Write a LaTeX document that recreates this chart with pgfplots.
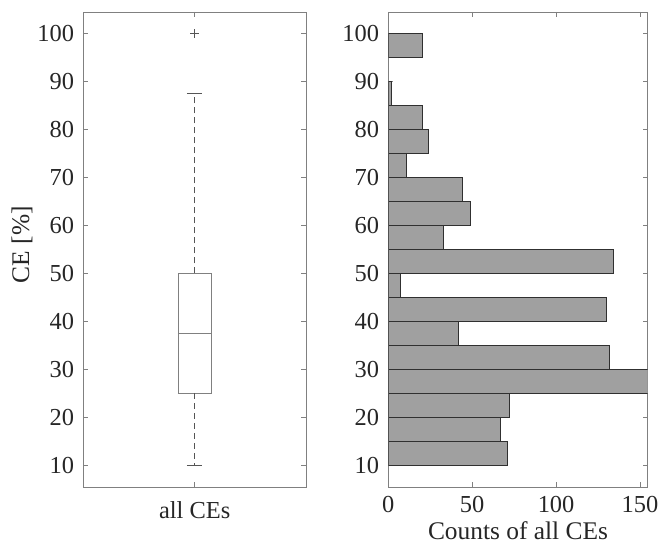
\documentclass[border=0pt]{standalone}
\usepackage{fontspec}
\setmainfont{Liberation Serif}
\usepackage{pgfplots}
\pgfplotsset{compat=1.18}
\definecolor{axgray}{HTML}{808080}
\definecolor{txt}{HTML}{262626}
\definecolor{barfill}{HTML}{A0A0A0}
\definecolor{bardraw}{HTML}{303030}
\definecolor{boxgray}{HTML}{808080}
\definecolor{whisk}{HTML}{555555}
\begin{document}
\begin{tikzpicture}
\pgfplotsset{
 every axis/.append style={
  scale only axis,
  axis line style={draw=axgray, line width=0.8pt},
  tick style={draw=axgray, line width=0.8pt},
  tick align=inside,
  major tick length=5bp,
  ymin=5.45, ymax=104.55,
  ytick={10,20,...,100},
  height=475bp,
  /pgf/number format/assume math mode=true,
  tick label style={font=\fontsize{24.5}{24.5}\selectfont, text=txt, inner sep=0pt},
  yticklabel style={anchor=east, xshift=-9bp},
  label style={font=\fontsize{25.5}{25.5}\selectfont, text=txt, inner sep=0pt},
 }
}
\begin{axis}[at={(83.3bp,59bp)}, anchor=south west, width=222.7bp,
  xmin=0.5, xmax=1.5, xtick={1}, xticklabels={all CEs},
  xticklabel style={anchor=base, yshift=-31bp},
  ylabel={CE [\%]},
  ylabel style={at={(axis description cs:-0.275,0.51)}, anchor=center}]
% box
\addplot[draw=boxgray, line width=0.8pt] coordinates {(0.925,25) (1.075,25) (1.075,50) (0.925,50) (0.925,25)};
% median
\addplot[draw=boxgray, line width=0.8pt] coordinates {(0.925,37.5) (1.075,37.5)};
% whiskers
\addplot[draw=whisk, line width=0.8pt, dash pattern=on 6bp off 4bp] coordinates {(1,50) (1,87.5)};
\addplot[draw=whisk, line width=0.8pt, dash pattern=on 6bp off 4bp] coordinates {(1,25) (1,10)};
% caps
\addplot[draw=whisk, line width=0.8pt] coordinates {(0.965,87.5) (1.035,87.5)};
\addplot[draw=whisk, line width=0.8pt] coordinates {(0.965,10) (1.035,10)};
% outlier
\addplot[only marks, mark=+, mark size=4.5bp, draw=whisk, mark options={line width=0.8pt}] coordinates {(1,100)};
\end{axis}
\begin{axis}[at={(388.3bp,59bp)}, anchor=south west, width=259.4bp,
  xmin=0, xmax=154.6, xtick={0,50,100,150},
  xticklabel style={anchor=base, yshift=-25bp},
  xlabel={Counts of all CEs},
  xlabel style={at={(axis description cs:0.5,-0.11)}, anchor=base}]
\addplot[xbar, bar width=5, bar shift=0pt, fill=barfill, draw=bardraw, line width=0.7pt] coordinates {
 (71,12.5) (67,17.5) (72,22.5) (155,27.5) (132,32.5) (42,37.5) (130,42.5)
 (7,47.5) (134,52.5) (33,57.5) (49,62.5) (44,67.5) (11,72.5) (24,77.5)
 (20,82.5) (2,87.5) (20,97.5)};
\end{axis}
\pgfresetboundingbox
\useasboundingbox (0,0) rectangle (658bp,546bp);
\end{tikzpicture}
\end{document}
